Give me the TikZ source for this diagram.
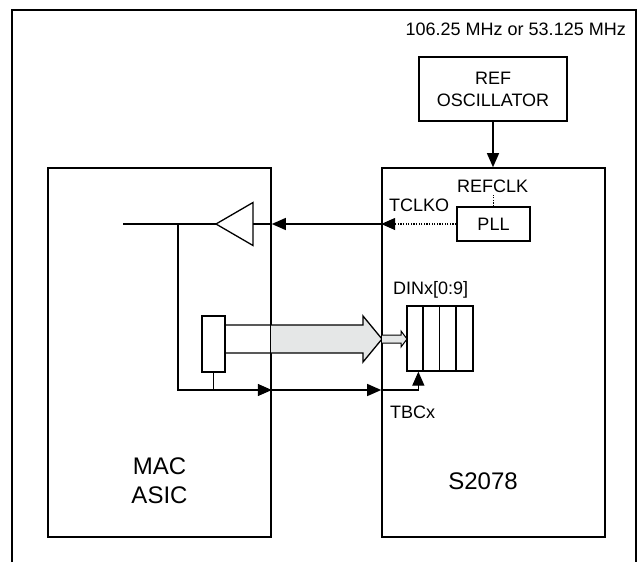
\documentclass[tikz,border=0pt]{standalone}
\usepackage{fontspec}
\setmainfont{Liberation Sans}
\usepackage{tikz}
\usetikzlibrary{arrows.meta}
\definecolor{busgray}{RGB}{229,231,231}
\tikzstyle{block} = [rectangle, draw=black, line width=1.6pt, inner sep=0pt, align=center, font=\fontsize{18}{22}\selectfont]
\tikzstyle{sig} = [inner sep=0pt, font=\fontsize{18}{22}\selectfont]
\tikzstyle{big} = [inner sep=0pt, align=center, font=\fontsize{24}{29}\selectfont]
\tikzstyle{wire} = [line width=1.3pt]
\tikzstyle{arrow} = [line width=1.3pt, -{Triangle[length=14pt,width=12pt]}]
\tikzstyle{dotline} = [line width=1.3pt, dash pattern=on 1.3pt off 1.3pt]

\begin{document}
\begin{tikzpicture}[x=1pt, y=-1pt]
	\useasboundingbox (0,0) rectangle (642,562);
	
	% Frame
	\draw [line width=2.2pt] (12,562) -- (12,10) -- (636,10) -- (636,562);
	
	% Nodes
	\node (freq) [sig, anchor=base east] at (626,35) {106.25 MHz or 53.125 MHz};
	\node (osc) [block, minimum width=148pt, minimum height=64pt] at (493,89) {REF\\OSCILLATOR};
	\node (mac) [block, minimum width=223pt, minimum height=369pt] at (159.5,352.5) {};
	\node (chip) [block, minimum width=223pt, minimum height=369pt] at (493.5,352.5) {};
	\node (pll) [block, minimum width=73pt, minimum height=34pt] at (493.5,224) {PLL};
	\node (mux) [block, line width=1.3pt, minimum width=23pt, minimum height=56pt] at (213.5,344) {};
	\node (reg) [block, line width=1.3pt, minimum width=66pt, minimum height=65pt] at (440,338.5) {};
	\foreach \i in {1,2,3}
		\draw [wire] ([xshift=\i*16.5pt]reg.south west) -- ([xshift=\i*16.5pt]reg.north west);
	
	\node (refclk) [sig, anchor=base west] at (457,192) {REFCLK};
	\node (tclko) [sig, anchor=base west] at (389,211) {TCLKO};
	\node (dinx) [sig, anchor=base west] at (393,294) {DINx[0:9]};
	\node (tbcx) [sig, anchor=base west] at (390,418) {TBCx};
	\node (maclabel) [big] at (159.5,481) {MAC\\ASIC};
	\node (chiplabel) [big, anchor=base] at (483,489) {S2078};
	
	% Coordinates
	\coordinate (tin) at (chip.west |- pll.west);
	\coordinate (tout) at (mac.east |- pll.west);
	\coordinate (bufin) at (253,224);
	\coordinate (buftip) at (216,224);
	\coordinate (clk) at (123,224);
	\coordinate (tap) at (178,224);
	\coordinate (tb) at (178,390);
	\coordinate (regin) at ([xshift=12pt]reg.south west);
	
	% Buffer
	\draw [wire] (bufin) -- ++(0,-21.5) -- (buftip) -- ++(37,21.5) -- cycle;
	
	% Bus
	\fill [busgray] (271,325) -- (363,325) -- (363,316) -- (382,339) -- (363,362) -- (363,353) -- (271,353) -- cycle;
	\draw [wire] (mux.east |- 0,325) -- (363,325) -- (363,316) -- (382,339) -- (363,362) -- (363,353) -- (mux.east |- 0,353);
	\filldraw [line width=1pt, fill=busgray] (382,335) -- (401,335) -- (401,331) -- (407,339) -- (401,347) -- (401,343) -- (382,343);
	
	% Arrows
	\draw [arrow] (osc.south) -- (osc.south |- chip.north);
	\draw [dotline] (pll.north) -- ++(0,-12);
	\draw [arrow, dotline] (pll.west) -- (tin);
	\draw [arrow] (tin) -- (tout);
	\draw [wire] (tout) -- (bufin);
	\draw [wire] (clk) -- (buftip);
	\draw [arrow] (tap) -- (tb) -- (mac.east |- tb);
	\draw [arrow] (mac.east |- tb) -- (chip.west |- tb);
	\draw [arrow] (chip.west |- tb) -- (regin |- tb) -- (regin);
	\draw [wire] (mux.south) -- (mux.south |- tb);
	
\end{tikzpicture}
\end{document}
